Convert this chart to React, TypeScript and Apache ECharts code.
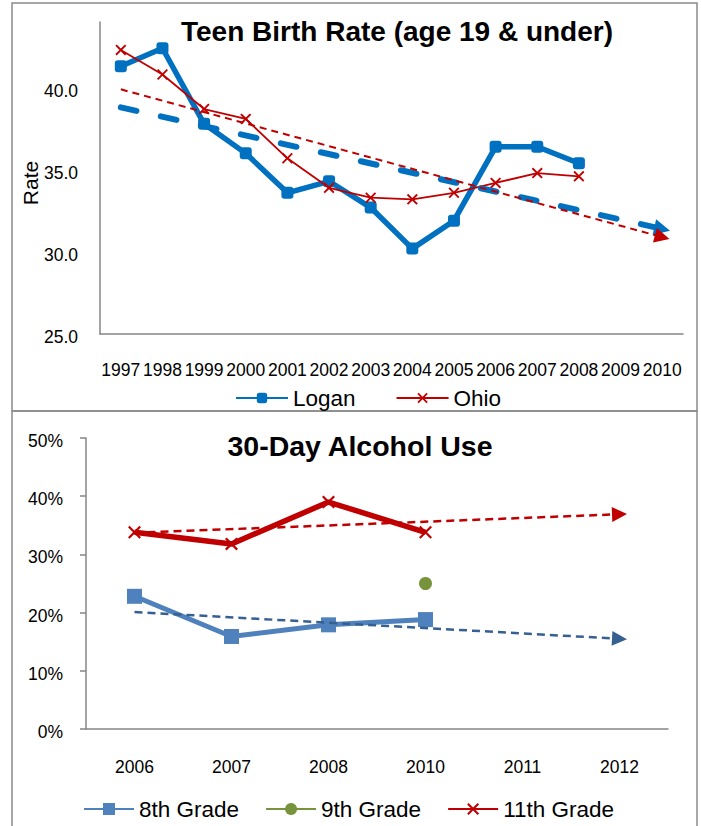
import React, { useEffect, useRef } from 'react';
import * as echarts from 'echarts';

// ---------- Top chart: Teen Birth Rate ----------
const birthYears = ['1997', '1998', '1999', '2000', '2001', '2002', '2003', '2004', '2005', '2006', '2007', '2008', '2009', '2010'];
const loganRate = [41.3, 42.4, 37.8, 36.0, 33.6, 34.3, 32.7, 30.2, 31.9, 36.4, 36.4, 35.4, null, null];
const ohioRate = [42.3, 40.8, 38.7, 38.1, 35.7, 33.9, 33.3, 33.2, 33.6, 34.2, 34.8, 34.6, null, null];
const trendYearsTop = ['1997', '2010'];
const loganTrend = [38.8, 31.4];
const ohioTrend = [39.9, 30.9];
const rateTicks = [25, 30, 35, 40];

// ---------- Bottom chart: 30-Day Alcohol Use ----------
const alcoholYears = ['2006', '2007', '2008', '2010', '2011', '2012'];
const grade8 = [22.8, 15.9, 17.9, 18.8, null, null];
const grade9 = [null, null, null, 25, null, null];
const grade11 = [33.8, 31.8, 39.0, 33.8, null, null];
const trendYearsBottom = ['2006', '2012'];
const grade8Trend = [20.1, 15.5];
const grade11Trend = [33.7, 36.9];

const FONT = '"Liberation Sans", Arial, sans-serif';
const AXIS_GRAY = '#868686';
const X_PATH = 'path://M0,1.2L1.2,0L5,3.8L8.8,0L10,1.2L6.2,5L10,8.8L8.8,10L5,6.2L1.2,10L0,8.8L3.8,5Z';

function trendLine(cats: string[], allCats: string[], vals: number[], color: string, width: number, dash: number[], arrow: number, cap: string) {
  return {
    silent: true,
    animation: false,
    symbol: ['none', 'triangle'],
    symbolSize: arrow,
    label: { show: false },
    emphasis: { disabled: true },
    lineStyle: { color, width, type: dash, cap, opacity: 1 },
    data: [[
      { coord: [allCats.indexOf(cats[0]), vals[0]] },
      { coord: [allCats.indexOf(cats[1]), vals[1]] },
    ]],
  };
}

export default function App() {
  const ref = useRef<HTMLDivElement>(null);
  useEffect(() => {
    if (!ref.current) return;
    const chart = echarts.init(ref.current, undefined, { renderer: 'svg' });
    const axisLabelBase = { color: '#000', fontFamily: FONT, fontSize: 17.5 };
    chart.setOption({
      animation: false,
      backgroundColor: '#fff',
      textStyle: { fontFamily: FONT },
      graphic: [
        { type: 'rect', silent: true, shape: { x: 12, y: 3, width: 685, height: 408 }, style: { fill: 'none', stroke: '#8a8a8a', lineWidth: 1.5 } },
        { type: 'rect', silent: true, shape: { x: 12, y: 411, width: 685, height: 430 }, style: { fill: 'none', stroke: '#8a8a8a', lineWidth: 1.5 } },
        {
          type: 'text', silent: true, x: 30, y: 183, rotation: Math.PI / 2,
          style: { text: 'Rate', font: `21px ${FONT}`, fill: '#000', textAlign: 'center', textVerticalAlign: 'middle' },
        },
      ],
      title: [
        {
          text: 'Teen Birth Rate (age 19 & under)',
          left: 397, top: 17, padding: 0, textAlign: 'center', textVerticalAlign: 'top',
          textStyle: { fontFamily: FONT, fontSize: 28, fontWeight: 'bold', color: '#000' },
        },
        {
          text: '30-Day Alcohol Use',
          left: 360, top: 431, padding: 0, textAlign: 'center', textVerticalAlign: 'top',
          textStyle: { fontFamily: FONT, fontSize: 28.5, fontWeight: 'bold', color: '#000' },
        },
      ],
      legend: [
        {
          data: ['Logan', 'Ohio'], left: 235, top: 386.5, padding: 0,
          itemWidth: 52, itemHeight: 13, itemGap: 40, selectedMode: false,
          textStyle: { fontFamily: FONT, fontSize: 22.5, color: '#000' },
          lineStyle: { width: 2 },
        },
        {
          data: ['8th Grade', '9th Grade', '11th Grade'], left: 83, top: 797.5, padding: 0,
          itemWidth: 50, itemHeight: 15, itemGap: 26, selectedMode: false,
          textStyle: { fontFamily: FONT, fontSize: 22.5, color: '#000' },
          lineStyle: { width: 2 },
        },
      ],
      grid: [
        { left: 100, top: 22, width: 583, height: 312 },
        { left: 86, top: 438, width: 582, height: 291 },
      ],
      xAxis: [
        {
          gridIndex: 0, type: 'category', data: birthYears, boundaryGap: true,
          axisLine: { lineStyle: { color: AXIS_GRAY, width: 1.5 } },
          axisTick: { show: false },
          axisLabel: { ...axisLabelBase, interval: 0, margin: 27 },
          splitLine: { show: false },
        },
        {
          gridIndex: 1, type: 'category', data: alcoholYears, boundaryGap: true,
          axisLine: { lineStyle: { color: AXIS_GRAY, width: 1.5 } },
          axisTick: { show: false },
          axisLabel: { ...axisLabelBase, interval: 0, margin: 29 },
          splitLine: { show: false },
        },
      ],
      yAxis: [
        {
          gridIndex: 0, type: 'value', min: 25, max: 44, interval: 5,
          axisLine: { show: true, lineStyle: { color: AXIS_GRAY, width: 1.5 } },
          axisTick: { show: false },
          axisLabel: {
            ...axisLabelBase, margin: 22, verticalAlign: 'top', lineHeight: 6, showMaxLabel: false,
            formatter: (v: number) => (rateTicks.includes(v) ? v.toFixed(1) : ''),
          },
          splitLine: { show: false },
        },
        {
          gridIndex: 1, type: 'value', min: 0, max: 50, interval: 10,
          axisLine: { show: true, lineStyle: { color: AXIS_GRAY, width: 1.5 } },
          axisTick: { show: true, length: 6, lineStyle: { color: AXIS_GRAY, width: 1.5 } },
          axisLabel: { ...axisLabelBase, margin: 23, verticalAlign: 'top', lineHeight: 6, formatter: (v: number) => `${v}%` },
          splitLine: { show: false },
        },
      ],
      series: [
        {
          name: 'Logan', type: 'line', xAxisIndex: 0, yAxisIndex: 0, data: loganRate,
          symbol: 'roundRect', symbolSize: 12,
          lineStyle: { color: '#0070C0', width: 5.5, join: 'round' },
          itemStyle: { color: '#0070C0' },
          emphasis: { disabled: true },
          markLine: trendLine(trendYearsTop, birthYears, loganTrend, '#0070C0', 6, [16, 25], 16, 'round'),
          z: 2,
        },
        {
          name: 'Ohio', type: 'line', xAxisIndex: 0, yAxisIndex: 0, data: ohioRate,
          symbol: X_PATH, symbolSize: 11,
          lineStyle: { color: '#C00000', width: 1.8 },
          itemStyle: { color: '#C00000' },
          emphasis: { disabled: true },
          markLine: trendLine(trendYearsTop, birthYears, ohioTrend, '#C00000', 2, [7, 5], 15, 'butt'),
          z: 3,
        },
        {
          name: '8th Grade', type: 'line', xAxisIndex: 1, yAxisIndex: 1, data: grade8,
          symbol: 'rect', symbolSize: 15,
          lineStyle: { color: '#4F81BD', width: 5 },
          itemStyle: { color: '#4F81BD' },
          emphasis: { disabled: true },
          markLine: trendLine(trendYearsBottom, alcoholYears, grade8Trend, '#376092', 2.5, [8, 5], 15, 'butt'),
        },
        {
          name: '9th Grade', type: 'line', xAxisIndex: 1, yAxisIndex: 1, data: grade9,
          symbol: 'circle', symbolSize: 13,
          lineStyle: { color: '#77933C', width: 5 },
          itemStyle: { color: '#77933C' },
          emphasis: { disabled: true },
        },
        {
          name: '11th Grade', type: 'line', xAxisIndex: 1, yAxisIndex: 1, data: grade11,
          symbol: X_PATH, symbolSize: 13,
          lineStyle: { color: '#C00000', width: 5.5 },
          itemStyle: { color: '#C00000' },
          emphasis: { disabled: true },
          markLine: trendLine(trendYearsBottom, alcoholYears, grade11Trend, '#C00000', 2.5, [8, 5], 15, 'butt'),
        },
      ],
    });
    return () => chart.dispose();
  }, []);
  return <div ref={ref} style={{ position: 'absolute', left: 0, top: 0, width: 701, height: 826 }} />;
}
